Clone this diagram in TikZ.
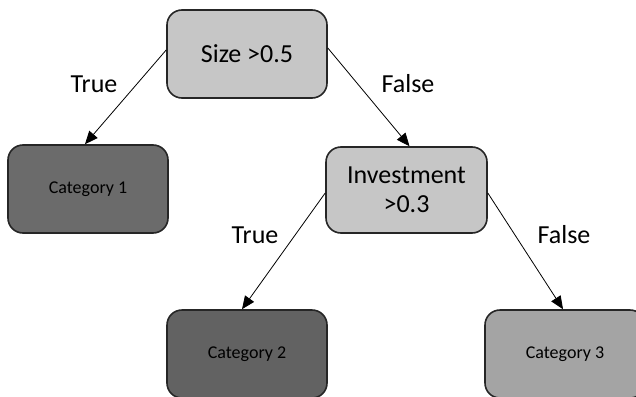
\documentclass[tikz,border=0pt]{standalone}
\usepackage{fontspec}
\setmainfont{Carlito}
\usetikzlibrary{arrows.meta}
\definecolor{decisionfill}{HTML}{C6C6C6}
\definecolor{leafdark}{HTML}{6B6B6B}
\definecolor{leafdarker}{HTML}{626262}
\definecolor{leaflight}{HTML}{A4A4A4}
\definecolor{edgegray}{HTML}{262626}
\tikzset{
  treebox/.style={draw=edgegray, line width=1.6pt, rounded corners=15pt,
    minimum width=160pt, minimum height=88pt, inner sep=0pt, align=center},
  decision/.style={treebox, fill=decisionfill, font=\fontsize{26}{31}\selectfont},
  leaf/.style={treebox, font=\fontsize{18}{22}\selectfont},
  branch/.style={draw=black, line width=0.8pt, -{Triangle[length=13pt,width=11pt]}},
  branchlabel/.style={font=\fontsize{26}{31}\selectfont}
}
\begin{document}
\begin{tikzpicture}[x=1pt, y=-1pt]
  \useasboundingbox (0,0) rectangle (636,396);
  \clip (0,0) rectangle (636,396);
  \fill[white] (0,0) rectangle (636,396);

  % decision nodes
  \node[decision] (size) at (247,54) {Size >0.5};
  \node[decision, minimum width=161pt, minimum height=86pt] (inv) at (406.5,190) {Investment\\[-2pt]>0.3};

  % leaves
  \node[leaf, fill=leafdark] (cat1) at (88,189) {Category 1};
  \node[leaf, fill=leafdarker] (cat2) at (247,354) {Category 2};
  \node[leaf, fill=leaflight] (cat3) at (565,354) {Category 3};

  % branches
  \draw[branch] ([yshift=4pt]size.west) -- ([xshift=-3pt]cat1.north);
  \draw[branch] ([yshift=6pt]size.east) -- ([xshift=3pt]inv.north);
  \draw[branch] ([yshift=-3pt]inv.west) -- ([xshift=-5pt]cat2.north);
  \draw[branch] ([yshift=-3pt]inv.east) -- ([xshift=-2pt]cat3.north);

  % branch labels
  \node[branchlabel] (t1) at (94,84) {True};
  \node[branchlabel] (f1) at (408,84) {False};
  \node[branchlabel] (t2) at (255,235) {True};
  \node[branchlabel] (f2) at (564,235) {False};
\end{tikzpicture}
\end{document}
